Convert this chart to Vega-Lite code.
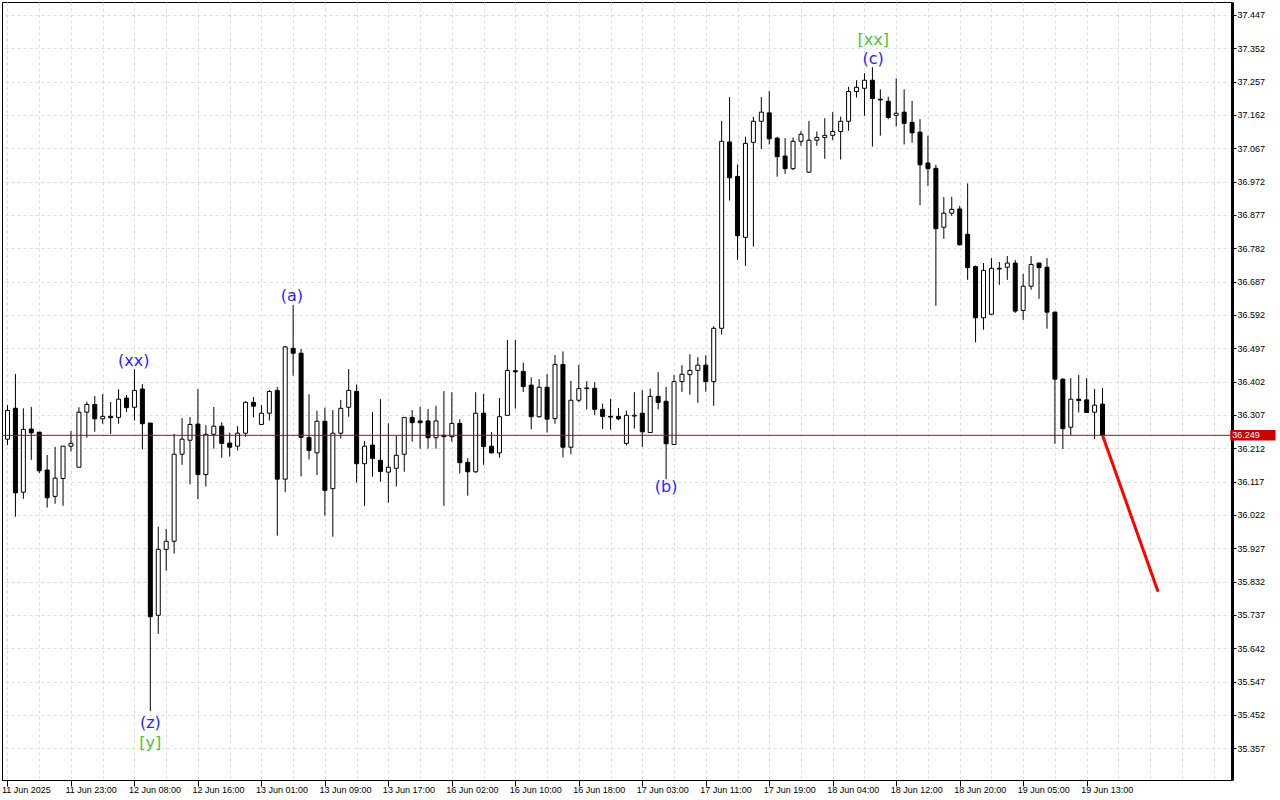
{
  "$schema": "https://vega.github.io/schema/vega-lite/v6.json",
  "width": 1230,
  "height": 778,
  "autosize": {"type": "none"},
  "padding": {"left": 2, "top": 2, "right": 48, "bottom": 20},
  "background": "white",
  "config": {
    "view": {"stroke": "black", "strokeWidth": 1},
    "axis": {"labelFont": "Liberation Sans", "labelFontSize": 9, "labelColor": "black", "title": null, "labelOverlap": false, "labelFlush": false, "labelBound": false}
  },
  "datasets": {
    "candles": [
      {"i":0,"o":36.238,"h":36.335,"l":36.221,"c":36.320},
      {"i":1,"o":36.326,"h":36.424,"l":36.017,"c":36.085},
      {"i":2,"o":36.087,"h":36.326,"l":36.068,"c":36.266},
      {"i":3,"o":36.267,"h":36.330,"l":36.179,"c":36.256},
      {"i":4,"o":36.258,"h":36.258,"l":36.141,"c":36.148},
      {"i":5,"o":36.150,"h":36.193,"l":36.043,"c":36.071},
      {"i":6,"o":36.075,"h":36.216,"l":36.054,"c":36.127},
      {"i":7,"o":36.126,"h":36.218,"l":36.048,"c":36.218},
      {"i":8,"o":36.218,"h":36.261,"l":36.203,"c":36.226},
      {"i":9,"o":36.158,"h":36.329,"l":36.158,"c":36.315},
      {"i":10,"o":36.315,"h":36.345,"l":36.242,"c":36.337},
      {"i":11,"o":36.337,"h":36.361,"l":36.259,"c":36.296},
      {"i":12,"o":36.296,"h":36.367,"l":36.282,"c":36.303},
      {"i":13,"o":36.303,"h":36.344,"l":36.253,"c":36.299},
      {"i":14,"o":36.300,"h":36.380,"l":36.282,"c":36.352},
      {"i":15,"o":36.355,"h":36.364,"l":36.315,"c":36.328},
      {"i":16,"o":36.329,"h":36.437,"l":36.291,"c":36.377},
      {"i":17,"o":36.381,"h":36.395,"l":36.209,"c":36.282},
      {"i":18,"o":36.284,"h":36.284,"l":35.463,"c":35.732},
      {"i":19,"o":35.736,"h":35.989,"l":35.683,"c":35.924},
      {"i":20,"o":35.924,"h":35.982,"l":35.863,"c":35.947},
      {"i":21,"o":35.947,"h":36.253,"l":35.912,"c":36.195},
      {"i":22,"o":36.195,"h":36.298,"l":36.165,"c":36.238},
      {"i":23,"o":36.235,"h":36.301,"l":36.109,"c":36.280},
      {"i":24,"o":36.281,"h":36.381,"l":36.067,"c":36.137},
      {"i":25,"o":36.137,"h":36.278,"l":36.103,"c":36.252},
      {"i":26,"o":36.252,"h":36.330,"l":36.211,"c":36.275},
      {"i":27,"o":36.275,"h":36.286,"l":36.185,"c":36.226},
      {"i":28,"o":36.227,"h":36.257,"l":36.188,"c":36.215},
      {"i":29,"o":36.218,"h":36.275,"l":36.206,"c":36.255},
      {"i":30,"o":36.255,"h":36.346,"l":36.245,"c":36.343},
      {"i":31,"o":36.343,"h":36.358,"l":36.300,"c":36.332},
      {"i":32,"o":36.280,"h":36.335,"l":36.280,"c":36.312},
      {"i":33,"o":36.312,"h":36.378,"l":36.291,"c":36.374},
      {"i":34,"o":36.377,"h":36.387,"l":35.963,"c":36.124},
      {"i":35,"o":36.124,"h":36.504,"l":36.087,"c":36.501},
      {"i":36,"o":36.497,"h":36.620,"l":36.419,"c":36.483},
      {"i":37,"o":36.483,"h":36.495,"l":36.132,"c":36.243},
      {"i":38,"o":36.243,"h":36.366,"l":36.180,"c":36.206},
      {"i":39,"o":36.199,"h":36.319,"l":36.136,"c":36.289},
      {"i":40,"o":36.289,"h":36.328,"l":36.020,"c":36.092},
      {"i":41,"o":36.097,"h":36.321,"l":35.960,"c":36.255},
      {"i":42,"o":36.255,"h":36.350,"l":36.240,"c":36.326},
      {"i":43,"o":36.329,"h":36.438,"l":36.302,"c":36.377},
      {"i":44,"o":36.374,"h":36.394,"l":36.114,"c":36.168},
      {"i":45,"o":36.168,"h":36.233,"l":36.048,"c":36.218},
      {"i":46,"o":36.221,"h":36.315,"l":36.131,"c":36.183},
      {"i":47,"o":36.178,"h":36.352,"l":36.117,"c":36.146},
      {"i":48,"o":36.144,"h":36.283,"l":36.057,"c":36.158},
      {"i":49,"o":36.155,"h":36.249,"l":36.103,"c":36.192},
      {"i":50,"o":36.195,"h":36.300,"l":36.145,"c":36.300},
      {"i":51,"o":36.300,"h":36.321,"l":36.231,"c":36.285},
      {"i":52,"o":36.290,"h":36.330,"l":36.211,"c":36.285},
      {"i":53,"o":36.290,"h":36.324,"l":36.211,"c":36.242},
      {"i":54,"o":36.242,"h":36.333,"l":36.211,"c":36.290},
      {"i":55,"o":36.249,"h":36.375,"l":36.048,"c":36.245},
      {"i":56,"o":36.245,"h":36.372,"l":36.231,"c":36.283},
      {"i":57,"o":36.283,"h":36.295,"l":36.140,"c":36.171},
      {"i":58,"o":36.172,"h":36.184,"l":36.077,"c":36.145},
      {"i":59,"o":36.145,"h":36.372,"l":36.142,"c":36.312},
      {"i":60,"o":36.312,"h":36.367,"l":36.165,"c":36.217},
      {"i":61,"o":36.218,"h":36.258,"l":36.197,"c":36.199},
      {"i":62,"o":36.199,"h":36.355,"l":36.185,"c":36.302},
      {"i":63,"o":36.306,"h":36.521,"l":36.306,"c":36.434},
      {"i":64,"o":36.433,"h":36.521,"l":36.325,"c":36.430},
      {"i":65,"o":36.431,"h":36.456,"l":36.373,"c":36.388},
      {"i":66,"o":36.392,"h":36.414,"l":36.266,"c":36.302},
      {"i":67,"o":36.302,"h":36.409,"l":36.299,"c":36.386},
      {"i":68,"o":36.386,"h":36.424,"l":36.257,"c":36.295},
      {"i":69,"o":36.297,"h":36.478,"l":36.282,"c":36.451},
      {"i":70,"o":36.451,"h":36.488,"l":36.186,"c":36.215},
      {"i":71,"o":36.215,"h":36.404,"l":36.195,"c":36.349},
      {"i":72,"o":36.349,"h":36.450,"l":36.343,"c":36.382},
      {"i":73,"o":36.382,"h":36.403,"l":36.323,"c":36.384},
      {"i":74,"o":36.383,"h":36.400,"l":36.307,"c":36.323},
      {"i":75,"o":36.323,"h":36.339,"l":36.267,"c":36.303},
      {"i":76,"o":36.303,"h":36.353,"l":36.265,"c":36.301},
      {"i":77,"o":36.303,"h":36.327,"l":36.292,"c":36.296},
      {"i":78,"o":36.226,"h":36.319,"l":36.220,"c":36.306},
      {"i":79,"o":36.304,"h":36.372,"l":36.268,"c":36.306},
      {"i":80,"o":36.312,"h":36.378,"l":36.216,"c":36.259},
      {"i":81,"o":36.257,"h":36.382,"l":36.256,"c":36.360},
      {"i":82,"o":36.360,"h":36.429,"l":36.323,"c":36.343},
      {"i":83,"o":36.346,"h":36.387,"l":36.124,"c":36.225},
      {"i":84,"o":36.223,"h":36.421,"l":36.222,"c":36.402},
      {"i":85,"o":36.402,"h":36.449,"l":36.373,"c":36.423},
      {"i":86,"o":36.422,"h":36.480,"l":36.365,"c":36.434},
      {"i":87,"o":36.434,"h":36.472,"l":36.342,"c":36.449},
      {"i":88,"o":36.449,"h":36.477,"l":36.373,"c":36.402},
      {"i":89,"o":36.402,"h":36.560,"l":36.333,"c":36.554},
      {"i":90,"o":36.554,"h":37.145,"l":36.536,"c":37.087},
      {"i":91,"o":37.085,"h":37.213,"l":36.918,"c":36.983},
      {"i":92,"o":36.987,"h":37.021,"l":36.749,"c":36.818},
      {"i":93,"o":36.813,"h":37.100,"l":36.732,"c":37.081},
      {"i":94,"o":37.084,"h":37.157,"l":36.787,"c":37.144},
      {"i":95,"o":37.144,"h":37.213,"l":37.065,"c":37.170},
      {"i":96,"o":37.168,"h":37.230,"l":37.078,"c":37.094},
      {"i":97,"o":37.096,"h":37.100,"l":36.986,"c":37.043},
      {"i":98,"o":37.045,"h":37.096,"l":36.994,"c":37.009},
      {"i":99,"o":37.009,"h":37.098,"l":37.005,"c":37.087},
      {"i":100,"o":37.087,"h":37.116,"l":37.074,"c":37.107},
      {"i":101,"o":36.999,"h":37.145,"l":36.997,"c":37.090},
      {"i":102,"o":37.090,"h":37.115,"l":37.074,"c":37.098},
      {"i":103,"o":37.098,"h":37.153,"l":37.037,"c":37.104},
      {"i":104,"o":37.104,"h":37.170,"l":37.090,"c":37.115},
      {"i":105,"o":37.115,"h":37.157,"l":37.035,"c":37.144},
      {"i":106,"o":37.144,"h":37.242,"l":37.117,"c":37.229},
      {"i":107,"o":37.229,"h":37.261,"l":37.212,"c":37.241},
      {"i":108,"o":37.238,"h":37.281,"l":37.160,"c":37.261},
      {"i":109,"o":37.261,"h":37.298,"l":37.072,"c":37.209},
      {"i":110,"o":37.207,"h":37.235,"l":37.103,"c":37.205},
      {"i":111,"o":37.201,"h":37.214,"l":37.150,"c":37.155},
      {"i":112,"o":37.161,"h":37.266,"l":37.129,"c":37.167},
      {"i":113,"o":37.170,"h":37.235,"l":37.078,"c":37.138},
      {"i":114,"o":37.141,"h":37.202,"l":37.083,"c":37.111},
      {"i":115,"o":37.113,"h":37.150,"l":36.905,"c":37.020},
      {"i":116,"o":37.025,"h":37.103,"l":36.960,"c":37.009},
      {"i":117,"o":37.010,"h":37.020,"l":36.618,"c":36.838},
      {"i":118,"o":36.842,"h":36.928,"l":36.809,"c":36.882},
      {"i":119,"o":36.882,"h":36.929,"l":36.874,"c":36.893},
      {"i":120,"o":36.894,"h":36.903,"l":36.790,"c":36.792},
      {"i":121,"o":36.822,"h":36.967,"l":36.692,"c":36.727},
      {"i":122,"o":36.730,"h":36.733,"l":36.514,"c":36.584},
      {"i":123,"o":36.584,"h":36.740,"l":36.550,"c":36.719},
      {"i":124,"o":36.594,"h":36.754,"l":36.592,"c":36.725},
      {"i":125,"o":36.723,"h":36.743,"l":36.678,"c":36.725},
      {"i":126,"o":36.728,"h":36.760,"l":36.692,"c":36.740},
      {"i":127,"o":36.740,"h":36.749,"l":36.598,"c":36.603},
      {"i":128,"o":36.605,"h":36.709,"l":36.578,"c":36.674},
      {"i":129,"o":36.674,"h":36.760,"l":36.664,"c":36.736},
      {"i":130,"o":36.740,"h":36.740,"l":36.638,"c":36.727},
      {"i":131,"o":36.728,"h":36.754,"l":36.553,"c":36.600},
      {"i":132,"o":36.600,"h":36.602,"l":36.225,"c":36.409},
      {"i":133,"o":36.409,"h":36.412,"l":36.210,"c":36.268},
      {"i":134,"o":36.272,"h":36.412,"l":36.250,"c":36.352},
      {"i":135,"o":36.352,"h":36.421,"l":36.314,"c":36.348},
      {"i":136,"o":36.350,"h":36.412,"l":36.313,"c":36.314},
      {"i":137,"o":36.315,"h":36.381,"l":36.238,"c":36.335},
      {"i":138,"o":36.338,"h":36.384,"l":36.248,"c":36.249}
    ],
    "forecast": [
      {"i":138,"v":36.249},
      {"i":145,"v":35.803}
    ],
    "waves": [
      {"i":15.9,"v":36.461,"label":"(xx)","g":"b"},
      {"i":18,"v":35.429,"label":"(z)","g":"b"},
      {"i":18,"v":35.372,"label":"[y]","g":"g"},
      {"i":35.85,"v":36.646,"label":"(a)","g":"b"},
      {"i":83,"v":36.102,"label":"(b)","g":"b"},
      {"i":109.1,"v":37.321,"label":"(c)","g":"b"},
      {"i":109.1,"v":37.376,"label":"[xx]","g":"g"}
    ],
    "price": [
      {"x1":154.1,"x2":159.8,"lo":36.234,"hi":36.264,"v":36.249,"tx":154.35,"label":"36.249"}
    ]
  },
  "layer": [
    {
      "data": {"name": "candles"},
      "mark": {"type": "rule", "color": "black", "strokeWidth": 1, "clip": true},
      "encoding": {
        "x": {
          "field": "i", "type": "quantitative",
          "scale": {"domain": [-0.0625, 153.6875], "nice": false, "zero": false},
          "axis": {
            "orient": "bottom",
            "values": [0,4,8,12,16,20,24,28,32,36,40,44,48,52,56,60,64,68,72,76,80,84,88,92,96,100,104,108,112,116,120,124,128,132,136,140,144,148,152],
            "tickCount": 100,
            "labelExpr": "(datum.value % 8 === 0 && datum.value <= 136) ? ['11 Jun 2025','11 Jun 23:00','12 Jun 08:00','12 Jun 16:00','13 Jun 01:00','13 Jun 09:00','13 Jun 17:00','16 Jun 02:00','16 Jun 10:00','16 Jun 18:00','17 Jun 03:00','17 Jun 11:00','17 Jun 19:00','18 Jun 04:00','18 Jun 12:00','18 Jun 20:00','19 Jun 05:00','19 Jun 13:00'][datum.value / 8] : ''",
            "labelAlign": "left",
            "labelBaseline": "top",
            "labelOffset": -6,
            "labelPadding": -1,
            "labelOverlap": false,
            "labelFlush": false,
            "labelBound": false,
            "grid": true,
            "gridColor": "#dddddd",
            "gridDash": [3, 3],
            "gridWidth": 1,
            "domainColor": "black",
            "domainWidth": 1,
            "tickColor": "black",
            "tickSize": 6,
            "tickWidth": 1,
            "tickOpacity": {"condition": {"test": "datum.value % 8 === 0 && datum.value <= 136", "value": 1}, "value": 0}
          }
        },
        "y": {
          "field": "l", "type": "quantitative",
          "scale": {"domain": [35.2666, 37.484], "nice": false, "zero": false},
          "axis": {
            "orient": "right",
            "values": [35.357,35.452,35.547,35.642,35.737,35.832,35.927,36.022,36.117,36.212,36.307,36.402,36.497,36.592,36.687,36.782,36.877,36.972,37.067,37.162,37.257,37.352,37.447],
            "tickCount": 100,
            "format": ".3f",
            "labelPadding": 1,
            "labelOverlap": false,
            "labelFlush": false,
            "labelBound": false,
            "grid": true,
            "gridColor": "#dddddd",
            "gridDash": [3, 3],
            "gridWidth": 1,
            "domainColor": "black",
            "domainWidth": 3,
            "tickColor": "black",
            "tickSize": 4,
            "tickWidth": 1
          }
        },
        "y2": {"field": "h"}
      }
    },
    {
      "data": {"name": "candles"},
      "mark": {"type": "bar", "width": 4, "stroke": "black", "strokeWidth": 1, "clip": true},
      "encoding": {
        "x": {"field": "i", "type": "quantitative", "scale": {"domain": [-0.0625, 153.6875], "nice": false, "zero": false}},
        "y": {"field": "o", "type": "quantitative", "scale": {"domain": [35.2666, 37.484], "nice": false, "zero": false}},
        "y2": {"field": "c"},
        "fill": {"condition": {"test": "datum.c >= datum.o", "value": "white"}, "value": "black"}
      }
    },
    {
      "data": {"name": "price"},
      "mark": {"type": "rule", "color": "#a01010", "strokeWidth": 1},
      "encoding": {
        "y": {"field": "v", "type": "quantitative", "scale": {"domain": [35.2666, 37.484], "nice": false, "zero": false}}
      }
    },
    {
      "data": {"name": "forecast"},
      "mark": {"type": "line", "color": "#ff0000", "strokeWidth": 3, "clip": false},
      "encoding": {
        "x": {"field": "i", "type": "quantitative", "scale": {"domain": [-0.0625, 153.6875], "nice": false, "zero": false}},
        "y": {"field": "v", "type": "quantitative", "scale": {"domain": [35.2666, 37.484], "nice": false, "zero": false}}
      }
    },
    {
      "data": {"name": "waves"},
      "mark": {"type": "text", "font": "DejaVu Sans", "fontSize": 16, "align": "center", "baseline": "middle"},
      "encoding": {
        "x": {"field": "i", "type": "quantitative", "scale": {"domain": [-0.0625, 153.6875], "nice": false, "zero": false}},
        "y": {"field": "v", "type": "quantitative", "scale": {"domain": [35.2666, 37.484], "nice": false, "zero": false}},
        "text": {"field": "label"},
        "color": {"field": "g", "type": "nominal", "scale": {"domain": ["b", "g"], "range": ["#2626ff", "#3cc83c"]}, "legend": null}
      }
    },
    {
      "data": {"name": "price"},
      "mark": {"type": "rect", "fill": "#cc0000", "clip": false},
      "encoding": {
        "x": {"field": "x1", "type": "quantitative", "scale": {"domain": [-0.0625, 153.6875], "nice": false, "zero": false}},
        "x2": {"field": "x2"},
        "y": {"field": "lo", "type": "quantitative", "scale": {"domain": [35.2666, 37.484], "nice": false, "zero": false}},
        "y2": {"field": "hi"}
      }
    },
    {
      "data": {"name": "price"},
      "mark": {"type": "text", "font": "Liberation Sans", "fontSize": 9, "color": "white", "align": "left", "baseline": "middle", "clip": false},
      "encoding": {
        "x": {"field": "tx", "type": "quantitative", "scale": {"domain": [-0.0625, 153.6875], "nice": false, "zero": false}},
        "y": {"field": "v", "type": "quantitative", "scale": {"domain": [35.2666, 37.484], "nice": false, "zero": false}},
        "text": {"field": "label"}
      }
    }
  ]
}
